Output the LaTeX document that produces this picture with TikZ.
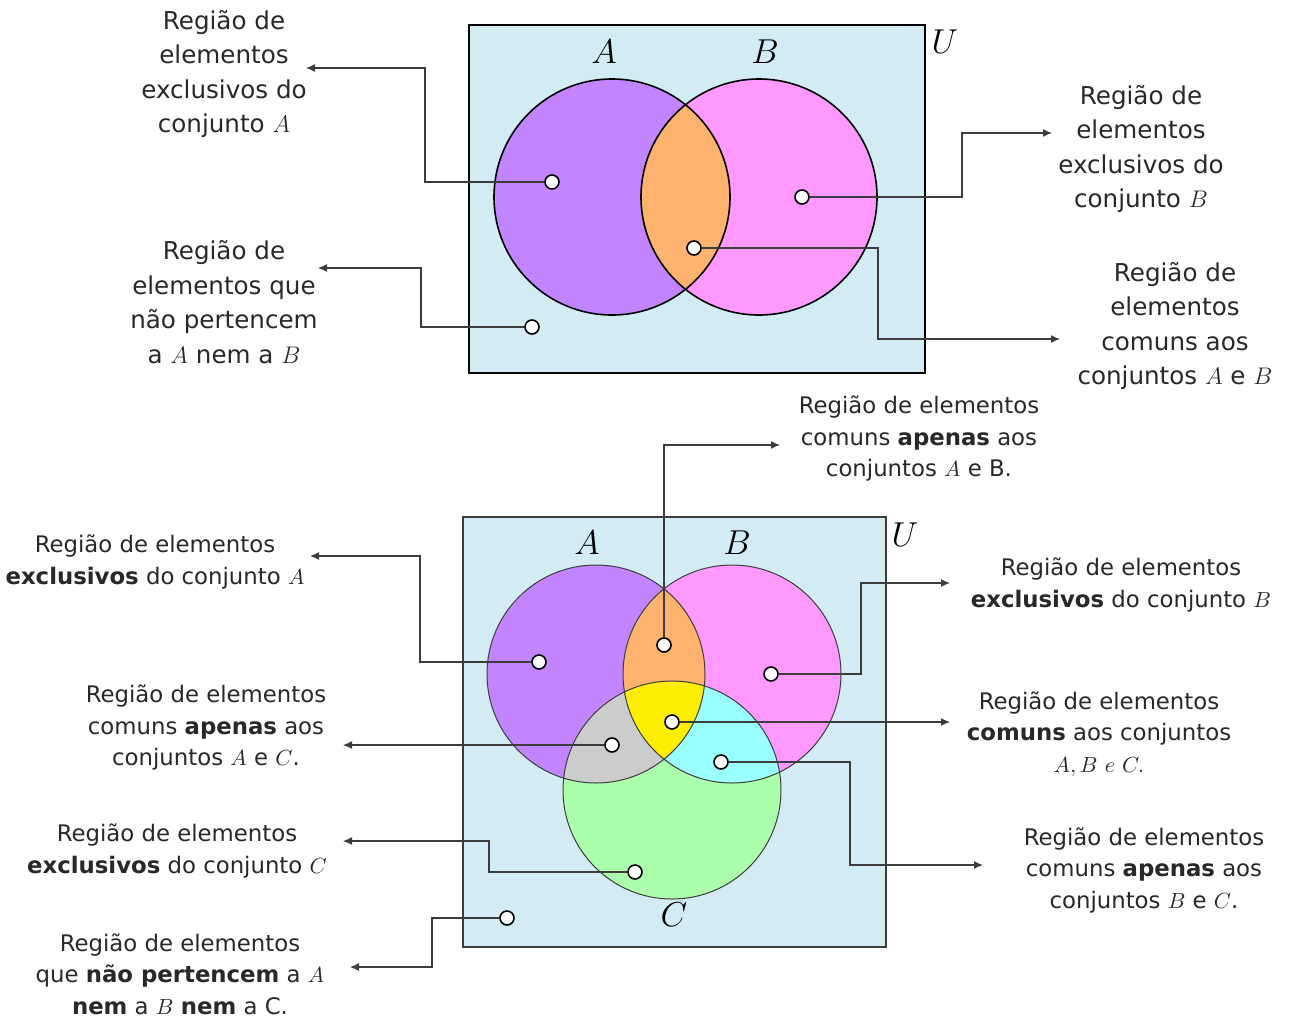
\documentclass[tikz,border=0pt]{standalone}
\usepackage{fontspec}
\setmainfont{DejaVu Sans}
\usepackage{tikz}
\usetikzlibrary{positioning, arrows.meta}
\definecolor{universeColor}{RGB}{211,236,243}
\definecolor{setAColor}{RGB}{194,133,255}
\definecolor{setBColor}{RGB}{255,153,255}
\definecolor{setCColor}{RGB}{171,255,171}
\definecolor{setABColor}{RGB}{253,179,110}
\definecolor{setACColor}{RGB}{204,204,204}
\definecolor{setBCColor}{RGB}{153,255,255}
\definecolor{setABCColor}{RGB}{255,238,0}
\definecolor{lineColor}{RGB}{60,60,60}
\definecolor{textColor}{RGB}{40,40,40}
\tikzstyle{pixels} = [x = .5pt, y = -.5pt]
\tikzstyle{dotStyle} = [circle, draw=black, fill=white, inner sep=0pt, minimum size=7pt, line width=.8pt]
\tikzstyle{connector} = [draw=lineColor, line width=.6pt, -{Latex[length=4.5pt, width=4pt]}]
\tikzstyle{bigText} = [align=center, text=textColor, font=\fontsize{12.3}{17.25}\selectfont]
\tikzstyle{smallText} = [align=center, text=textColor, font=\fontsize{11.4}{15.75}\selectfont]
\tikzstyle{setName} = [font=\fontsize{16}{16}\selectfont]
\tikzstyle{thickOutline} = [draw=black, line width=.8pt]
\tikzstyle{thinOutline} = [draw=lineColor, line width=.5pt]
\newcommand{\regionDot}[3]{\node [dotStyle] (#1) at (#2,#3) {};}
\newcommand{\setLabel}[4]{\node [setName] (#1) at (#2,#3) {$#4$};}
\newcommand{\vennDisk}[4]{\fill [#4] (#1,#2) circle [radius = #3];}

\begin{document}
\begin{tikzpicture}[pixels]
  \useasboundingbox (0,0) rectangle (1291,1019);

  \draw [fill=universeColor, draw=black, line width=1pt] (469,25) rectangle (925,373);
  \vennDisk{612}{197}{118}{setAColor}
  \vennDisk{759}{197}{118}{setBColor}
  \begin{scope}
    \clip (612,197) circle [radius = 118];
    \vennDisk{759}{197}{118}{setABColor}
  \end{scope}
  \draw [thickOutline] (612,197) circle [radius = 118] (759,197) circle [radius = 118];
  \setLabel{nameA}{604}{52}{A}
  \setLabel{nameB}{765}{52}{B}
  \setLabel{nameU}{945}{42}{U}

  \regionDot{dA}{552}{182}
  \regionDot{dB}{802}{197}
  \regionDot{dAB}{694}{248}
  \regionDot{dOut}{532}{327}

  \node [bigText] (tA) at (224,74) {Região de\\elementos\\exclusivos do\\conjunto $A$};
  \node [bigText] (tOut) at (224,302) {Região de\\elementos que\\não pertencem\\a $A$ nem a $B$};
  \node [bigText] (tB) at (1141,149) {Região de\\elementos\\exclusivos do\\conjunto $B$};
  \node [bigText] (tAB) at (1175,326) {Região de\\elementos\\comuns aos\\conjuntos $A$ e $B$};

  \coordinate (kA) at (425,68);    \coordinate (eA) at (306,68);
  \coordinate (kOut) at (421,268); \coordinate (eOut) at (318,268);
  \coordinate (kB) at (962,133);   \coordinate (eB) at (1052,133);
  \coordinate (kAB) at (878,339);  \coordinate (eAB) at (1060,339);
  \draw [connector] (dA) -| (kA) -- (eA);
  \draw [connector] (dOut) -| (kOut) -- (eOut);
  \draw [connector] (dB) -| (kB) -- (eB);
  \draw [connector] (dAB) -| (kAB) -- (eAB);

  \draw [fill=universeColor, thinOutline, line width=.7pt] (463,517) rectangle (886,947);
  \vennDisk{596}{674}{109}{setAColor}
  \vennDisk{732}{674}{109}{setBColor}
  \vennDisk{672}{790}{109}{setCColor}
  \begin{scope}
    \clip (596,674) circle [radius = 109];
    \vennDisk{732}{674}{109}{setABColor}
    \vennDisk{672}{790}{109}{setACColor}
    \clip (732,674) circle [radius = 109];
    \vennDisk{672}{790}{109}{setABCColor}
  \end{scope}
  \begin{scope}
    \clip (732,674) circle [radius = 109];
    \clip (672,790) circle [radius = 109];
    \fill [setBCColor] (596,674) circle [radius = 109] [even odd rule] (400,450) rectangle (900,950);
  \end{scope}
  \draw [thinOutline] (596,674) circle [radius = 109] (732,674) circle [radius = 109] (672,790) circle [radius = 109];
  \setLabel{nameA2}{587}{543}{A}
  \setLabel{nameB2}{737}{543}{B}
  \setLabel{nameC2}{674}{915}{C}
  \setLabel{nameU2}{905}{535}{U}

  \regionDot{dAB2}{664}{645}
  \regionDot{dA2}{539}{662}
  \regionDot{dB2}{771}{674}
  \regionDot{dABC}{672}{722}
  \regionDot{dAC}{612}{745}
  \regionDot{dBC}{721}{762}
  \regionDot{dC2}{635}{872}
  \regionDot{dOut2}{507}{918}

  \node [smallText] (tAB2) at (919,439) {Região de elementos\\comuns \textbf{apenas} aos\\conjuntos $A$ e B.};
  \node [smallText] (tA2) at (155,562) {Região de elementos\\\textbf{exclusivos} do conjunto $A$};
  \node [smallText] (tAC) at (206,728) {Região de elementos\\comuns \textbf{apenas} aos\\conjuntos $A$ e $C$.};
  \node [smallText] (tC2) at (177,851) {Região de elementos\\\textbf{exclusivos} do conjunto $C$};
  \node [smallText] (tOut2) at (180,974) {Região de elementos\\que \textbf{não pertencem} a $A$\\\textbf{nem} a $B$ \textbf{nem} a C.};
  \node [smallText] (tB2) at (1121,585) {Região de elementos\\\textbf{exclusivos} do conjunto $B$};
  \node [smallText] (tABC) at (1099,734) {Região de elementos\\\textbf{comuns} aos conjuntos\\$A, B\ e\ C.$};
  \node [smallText] (tBC) at (1144,870) {Região de elementos\\comuns \textbf{apenas} aos\\conjuntos $B$ e $C$.};

  \coordinate (eAB2) at (780,445);
  \coordinate (kA2) at (420,556);  \coordinate (eA2) at (310,556);
  \coordinate (kB2) at (861,583);  \coordinate (eB2) at (950,583);
  \coordinate (eABC) at (950,722);
  \coordinate (eAC) at (343,745);
  \coordinate (kBC) at (850,865);  \coordinate (eBC) at (983,865);
  \coordinate (kC2) at (489,841);  \coordinate (eC2) at (343,841);
  \coordinate (kOut2) at (432,967); \coordinate (eOut2) at (350,967);
  \draw [connector] (dAB2) |- (eAB2);
  \draw [connector] (dA2) -| (kA2) -- (eA2);
  \draw [connector] (dB2) -| (kB2) -- (eB2);
  \draw [connector] (dABC) -- (eABC);
  \draw [connector] (dAC) -- (eAC);
  \draw [connector] (dBC) -| (kBC) -- (eBC);
  \draw [connector] (dC2) -| (kC2) -- (eC2);
  \draw [connector] (dOut2) -| (kOut2) -- (eOut2);
\end{tikzpicture}
\end{document}
